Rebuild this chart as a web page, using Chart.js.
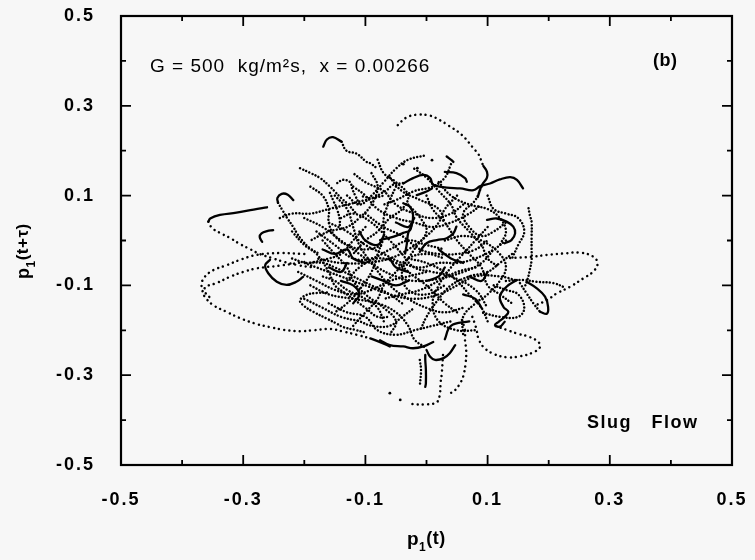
<!DOCTYPE html>
<html><head><meta charset="utf-8">
<script src="https://cdn.jsdelivr.net/npm/chart.js@4/dist/chart.umd.min.js"></script>
<style>html,body{margin:0;padding:0;background:#f7f7f7}#wrap{width:755px;height:560px}</style>
</head><body><div id="wrap"><canvas id="c" width="755" height="560"></canvas></div>
<script>
// ---- axis ticks ----
const X_TICKS = [-0.5, -0.3, -0.1, 0.1, 0.3, 0.5];
const Y_TICKS = [-0.5, -0.3, -0.1, 0.1, 0.3, 0.5];
const MINOR_TICKS = [-0.4, -0.2, 0.0, 0.2, 0.4];

// ---- trajectories p1(t), p1(t+tau) ----
// sparse dotted outer excursions
const T1 = [[-0.047,0.257],[-0.034,0.273],[-0.017,0.280],[0.006,0.278],[0.022,0.268],[0.035,0.257],[0.058,0.235],[0.079,0.202],[0.084,0.195],[0.093,0.166]];
const L1 = [[-0.200,-0.030],[-0.240,-0.028],[-0.278,-0.032],[-0.305,-0.043],[-0.327,-0.055],[-0.349,-0.066],[-0.363,-0.081],[-0.368,-0.095],[-0.367,-0.110],[-0.363,-0.125],[-0.349,-0.144],[-0.327,-0.159],[-0.305,-0.173],[-0.278,-0.186],[-0.256,-0.193],[-0.234,-0.199],[-0.207,-0.202],[-0.185,-0.200],[-0.158,-0.197],[-0.136,-0.203],[-0.114,-0.210],[-0.092,-0.218]];
const L2 = [[-0.200,-0.048],[-0.240,-0.056],[-0.278,-0.062],[-0.300,-0.070],[-0.322,-0.081],[-0.344,-0.095],[-0.362,-0.104],[-0.362,-0.116],[-0.352,-0.130]];
const R1 = [[0.137,-0.039],[0.175,-0.036],[0.197,-0.032],[0.224,-0.029],[0.251,-0.027],[0.273,-0.036],[0.280,-0.051],[0.273,-0.069],[0.257,-0.084],[0.235,-0.103],[0.213,-0.118],[0.197,-0.133],[0.179,-0.144]];
const E2 = [[0.075,-0.170],[0.079,-0.185],[0.082,-0.199],[0.085,-0.218],[0.093,-0.237],[0.109,-0.252],[0.131,-0.260],[0.153,-0.258],[0.175,-0.249],[0.186,-0.237],[0.183,-0.226],[0.169,-0.215],[0.148,-0.207],[0.131,-0.199],[0.112,-0.190]];
const D1 = [[0.058,-0.177],[0.063,-0.200],[0.063,-0.222],[0.065,-0.244],[0.064,-0.274],[0.060,-0.303],[0.055,-0.318],[0.047,-0.333],[0.038,-0.341]];
const D2 = [[0.027,-0.255],[0.025,-0.296],[0.023,-0.318],[0.022,-0.341],[0.017,-0.360],[0.000,-0.365],[-0.016,-0.365],[-0.024,-0.364]];
const C2 = [[-0.357,0.042],[-0.351,0.028],[-0.338,0.017],[-0.322,0.006],[-0.305,-0.008],[-0.289,-0.019],[-0.273,-0.030],[-0.253,-0.039],[-0.232,-0.048],[-0.210,-0.055],[-0.185,-0.060]];
// dense dotted paths
const T2 = [[-0.139,0.220],[-0.131,0.200],[-0.114,0.193],[-0.098,0.175],[-0.092,0.172],[-0.080,0.160]];
const T3 = [[-0.207,0.161],[-0.191,0.151],[-0.174,0.139],[-0.158,0.120],[-0.150,0.109],[-0.140,0.095],[-0.128,0.080],[-0.115,0.060]];
const S2 = [[-0.163,-0.116],[-0.180,-0.117],[-0.196,-0.121],[-0.207,-0.133],[-0.202,-0.144],[-0.185,-0.159],[-0.163,-0.174],[-0.147,-0.185],[-0.136,-0.193],[-0.117,-0.199],[-0.100,-0.205]];
const S3 = [[-0.243,0.084],[-0.236,0.068],[-0.228,0.050],[-0.218,0.030],[-0.212,0.016],[-0.204,0.001],[-0.191,-0.017],[-0.175,-0.030]];
const H0 = [[-0.104,0.098],[-0.088,0.095],[-0.073,0.106],[-0.065,0.112],[-0.055,0.124],[-0.038,0.128]];
const V1 = [[0.167,0.072],[0.169,0.057],[0.172,0.041],[0.172,0.008],[0.172,-0.017],[0.172,-0.043],[0.169,-0.066],[0.165,-0.088],[0.160,-0.106]];
const R2 = [[0.130,-0.090],[0.158,-0.088],[0.180,-0.092],[0.208,-0.095],[0.227,-0.105]];
const E1 = [[0.153,-0.095],[0.164,-0.118],[0.175,-0.140],[0.186,-0.159]];
const D4 = [[-0.011,-0.266],[-0.009,-0.288],[-0.011,-0.326]];
const F1 = [[-0.20,0.05],[-0.17,0.03],[-0.14,0.00],[-0.11,-0.03],[-0.08,-0.06],[-0.05,-0.08],[-0.02,-0.09],[0.02,-0.085],[0.06,-0.07],[0.09,-0.05],[0.11,-0.02]];
const F2 = [[-0.15,0.10],[-0.13,0.07],[-0.12,0.03],[-0.11,-0.01],[-0.09,-0.05],[-0.06,-0.10],[-0.03,-0.13],[0.00,-0.15],[0.03,-0.16],[0.06,-0.15]];
const F3 = [[-0.22,-0.04],[-0.18,-0.06],[-0.14,-0.08],[-0.10,-0.10],[-0.06,-0.12],[-0.02,-0.13],[0.02,-0.12],[0.05,-0.10],[0.08,-0.08],[0.12,-0.08],[0.15,-0.09]];
const F4 = [[-0.05,0.12],[-0.06,0.09],[-0.07,0.05],[-0.07,0.01],[-0.08,-0.03],[-0.09,-0.07],[-0.11,-0.11],[-0.13,-0.14],[-0.15,-0.16]];
const F5 = [[0.05,0.10],[0.03,0.07],[0.02,0.04],[0.00,0.01],[-0.03,-0.02],[-0.06,-0.04],[-0.10,-0.05],[-0.14,-0.05],[-0.18,-0.04]];
const F6 = [[0.10,0.03],[0.08,0.00],[0.06,-0.03],[0.04,-0.06],[0.02,-0.10],[0.01,-0.14],[0.02,-0.18],[0.05,-0.20],[0.08,-0.20]];
const F7 = [[-0.12,0.12],[-0.10,0.10],[-0.08,0.07],[-0.05,0.05],[-0.02,0.04],[0.01,0.03],[0.04,0.04],[0.07,0.06],[0.09,0.08]];
const F8 = [[-0.19,-0.10],[-0.16,-0.12],[-0.12,-0.13],[-0.08,-0.14],[-0.05,-0.16],[-0.03,-0.19],[-0.02,-0.22],[0.00,-0.24]];
const F9 = [[0.13,0.00],[0.11,-0.02],[0.08,-0.04],[0.05,-0.05],[0.02,-0.05],[-0.01,-0.06],[-0.04,-0.05],[-0.07,-0.03],[-0.10,-0.01],[-0.13,0.02],[-0.16,0.04]];
const F10 = [[-0.17,0.00],[-0.15,-0.03],[-0.13,-0.06],[-0.12,-0.09],[-0.10,-0.12],[-0.07,-0.15],[-0.05,-0.18],[-0.06,-0.21]];
const F11 = [[0.00,0.10],[0.01,0.07],[0.03,0.04],[0.05,0.00],[0.07,-0.03],[0.09,-0.06],[0.10,-0.10],[0.12,-0.12],[0.14,-0.14]];
const F12 = [[-0.09,0.15],[-0.08,0.12],[-0.09,0.08],[-0.11,0.05],[-0.13,0.03],[-0.16,0.02],[-0.19,0.00]];
const F13 = [[-0.03,0.08],[-0.01,0.05],[0.00,0.02],[-0.02,-0.02],[-0.04,-0.07],[-0.03,-0.11],[0.00,-0.12],[0.03,-0.10]];
const F14 = [[0.03,0.00],[0.06,0.01],[0.09,0.00],[0.12,-0.03],[0.13,-0.06],[0.12,-0.09],[0.10,-0.12],[0.08,-0.14],[0.06,-0.17],[0.06,-0.21]];
const F15 = [[-0.22,0.02],[-0.20,-0.01],[-0.18,-0.03],[-0.16,-0.07],[-0.15,-0.10],[-0.13,-0.12],[-0.10,-0.15],[-0.08,-0.17],[-0.06,-0.17]];
const F16 = [[-0.10,0.06],[-0.07,0.03],[-0.04,0.01],[-0.01,-0.02],[0.02,-0.03],[0.05,-0.03],[0.08,-0.02],[0.10,0.00]];
const F17 = [[-0.14,0.05],[-0.12,0.06],[-0.09,0.04],[-0.06,0.00],[-0.04,-0.03],[-0.02,-0.06],[0.01,-0.07],[0.04,-0.08],[0.08,-0.11],[0.10,-0.15]];
const F18 = [[0.02,0.13],[0.04,0.10],[0.07,0.08],[0.10,0.07],[0.12,0.05],[0.13,0.02],[0.12,-0.01]];
const F19 = [[-0.16,-0.14],[-0.13,-0.16],[-0.10,-0.17],[-0.08,-0.20],[-0.05,-0.21],[-0.02,-0.20],[0.01,-0.19],[0.04,-0.18]];
const F20 = [[-0.06,0.14],[-0.04,0.11],[-0.01,0.09],[0.02,0.07],[0.03,0.04]];
const F21 = [[-0.158,0.106],[-0.153,0.090],[-0.146,0.068],[-0.142,0.046],[-0.142,0.030]];
const F22 = [[-0.146,0.128],[-0.137,0.135],[-0.125,0.130],[-0.122,0.117],[-0.117,0.101],[-0.109,0.079]];
const F23 = [[-0.19,0.12],[-0.17,0.10],[-0.16,0.07],[-0.16,0.04],[-0.15,0.01],[-0.13,-0.01],[-0.10,-0.02],[-0.07,-0.01]];
const F24 = [[-0.08,0.18],[-0.07,0.15],[-0.05,0.13],[-0.03,0.10],[-0.04,0.07],[-0.06,0.05],[-0.08,0.02],[-0.10,0.00],[-0.12,-0.03]];
const F25 = [[0.04,0.17],[0.03,0.14],[0.01,0.12],[-0.02,0.11],[-0.05,0.09],[-0.07,0.08]];
const F26 = [[0.09,0.12],[0.08,0.09],[0.06,0.06],[0.07,0.03],[0.09,0.01],[0.11,0.02],[0.13,0.04]];
const F27 = [[-0.21,-0.07],[-0.18,-0.09],[-0.15,-0.11],[-0.12,-0.12],[-0.09,-0.11],[-0.06,-0.09],[-0.03,-0.08],[0.00,-0.07]];
const F28 = [[-0.12,-0.19],[-0.10,-0.16],[-0.08,-0.13],[-0.07,-0.10],[-0.05,-0.07],[-0.03,-0.04],[0.00,-0.03],[0.03,-0.04]];
const F29 = [[0.10,-0.18],[0.09,-0.15],[0.07,-0.12],[0.05,-0.09],[0.03,-0.07],[0.00,-0.05],[-0.03,-0.04]];
const F30 = [[-0.02,0.16],[0.00,0.14],[0.02,0.11],[0.04,0.08],[0.05,0.05],[0.07,0.02],[0.09,-0.01],[0.10,-0.04],[0.12,-0.06]];
const F31 = [[-0.13,0.10],[-0.11,0.08],[-0.09,0.10],[-0.07,0.13],[-0.05,0.16],[-0.03,0.18],[0.00,0.19]];
const F32 = [[-0.20,-0.13],[-0.17,-0.15],[-0.14,-0.17],[-0.11,-0.18],[-0.09,-0.19],[-0.06,-0.19],[-0.04,-0.17],[-0.02,-0.15]];
const F33 = [[0.14,-0.03],[0.12,-0.05],[0.10,-0.07],[0.07,-0.08],[0.04,-0.10],[0.02,-0.13],[0.00,-0.17],[-0.01,-0.20]];
const F34 = [[-0.24,0.05],[-0.22,0.06],[-0.19,0.06],[-0.16,0.07],[-0.13,0.08],[-0.10,0.09],[-0.07,0.10]];
const F35 = [[0.06,0.08],[0.04,0.06],[0.01,0.05],[-0.02,0.06],[-0.05,0.08],[-0.07,0.11],[-0.10,0.13],[-0.12,0.15]];
const F36 = [[0.11,-0.10],[0.13,-0.11],[0.15,-0.12],[0.16,-0.15],[0.15,-0.17],[0.12,-0.17],[0.09,-0.16]];
const F37 = [[-0.04,-0.14],[-0.06,-0.12],[-0.09,-0.10],[-0.12,-0.08],[-0.15,-0.06],[-0.17,-0.05],[-0.20,-0.05]];
const F38 = [[0.10,0.10],[0.11,0.07],[0.13,0.06],[0.15,0.05],[0.16,0.02],[0.15,-0.01],[0.14,-0.04]];
const F39 = [[-0.18,0.02],[-0.15,-0.01],[-0.12,-0.04],[-0.09,-0.04],[-0.06,-0.02],[-0.03,0.00],[0.00,-0.01],[0.03,-0.02]];
const F40 = [[-0.07,-0.18],[-0.08,-0.15],[-0.10,-0.13],[-0.13,-0.11],[-0.15,-0.09],[-0.17,-0.08]];
const F41 = [[0.05,-0.16],[0.03,-0.14],[0.00,-0.10],[-0.02,-0.08],[-0.05,-0.05],[-0.08,-0.04],[-0.11,-0.06],[-0.13,-0.09]];
const F42 = [[-0.10,0.03],[-0.12,0.00],[-0.14,-0.03],[-0.16,-0.04],[-0.19,-0.05]];
const F43 = [[0.08,-0.06],[0.05,-0.07],[0.02,-0.09],[-0.01,-0.11],[-0.04,-0.12],[-0.07,-0.13]];
// solid (slow) segments
const T1S = [[0.093,0.166],[0.099,0.153],[0.099,0.140],[0.092,0.126],[0.088,0.115],[0.084,0.097]];
const T2S = [[-0.169,0.209],[-0.163,0.225],[-0.153,0.230],[-0.139,0.220]];
const C1 = [[-0.261,0.074],[-0.283,0.069],[-0.311,0.062],[-0.338,0.057],[-0.354,0.049],[-0.357,0.042]];
const L1S = [[-0.092,-0.218],[-0.071,-0.229],[-0.060,-0.236]];
const S1 = [[-0.256,-0.043],[-0.264,-0.055],[-0.259,-0.073],[-0.245,-0.092],[-0.229,-0.099],[-0.213,-0.092],[-0.202,-0.081]];
const S3S = [[-0.218,0.090],[-0.227,0.102],[-0.237,0.104],[-0.244,0.095],[-0.243,0.084]];
const S4 = [[-0.251,0.023],[-0.261,0.021],[-0.270,0.016],[-0.273,0.008],[-0.269,-0.003]];
const H1 = [[-0.038,0.127],[-0.022,0.139],[-0.005,0.146],[0.006,0.139],[0.011,0.124],[0.033,0.118],[0.055,0.116],[0.077,0.112],[0.088,0.121],[0.104,0.127],[0.120,0.136],[0.137,0.141],[0.148,0.135],[0.158,0.116]];
const H1B = [[0.009,0.116],[0.000,0.109],[-0.016,0.101]];
const H2 = [[0.033,0.187],[0.041,0.179],[0.044,0.175]];
const H3 = [[0.030,0.153],[0.049,0.150],[0.063,0.139],[0.066,0.131]];
const A1 = [[0.099,0.046],[0.115,0.049],[0.131,0.042],[0.142,0.031],[0.145,0.016],[0.139,0.001],[0.128,-0.006]];
const A2 = [[-0.011,-0.025],[0.000,-0.006],[0.017,0.001],[0.033,0.005],[0.044,0.016],[0.049,0.031]];
const A3 = [[-0.038,0.083],[-0.027,0.075],[-0.022,0.057],[-0.024,0.035],[-0.030,0.016],[-0.032,-0.006],[-0.035,-0.029]];
const A4 = [[-0.076,0.001],[-0.055,0.008],[-0.038,0.017],[-0.027,0.023],[-0.024,0.039]];
const E1S = [[0.186,-0.159],[0.197,-0.163],[0.199,-0.148],[0.194,-0.125],[0.180,-0.106],[0.164,-0.092]];
const E3 = [[0.148,-0.088],[0.131,-0.103],[0.120,-0.125],[0.126,-0.148],[0.134,-0.159],[0.128,-0.170],[0.118,-0.181],[0.112,-0.188],[0.120,-0.192],[0.128,-0.181]];
const D3 = [[-0.002,-0.255],[-0.002,-0.266],[-0.001,-0.288],[-0.001,-0.318],[-0.002,-0.326]];
const D5 = [[-0.076,-0.222],[-0.060,-0.233],[-0.038,-0.236],[-0.022,-0.240],[-0.005,-0.236],[0.011,-0.226]];
const D6 = [[0.000,-0.244],[0.006,-0.259],[0.014,-0.266],[0.028,-0.262],[0.038,-0.251],[0.047,-0.233]];
const G1 = [[-0.17,-0.02],[-0.15,-0.03],[-0.13,-0.02],[-0.12,-0.04],[-0.10,-0.05]];
const G2 = [[-0.09,-0.08],[-0.07,-0.09],[-0.05,-0.10],[-0.03,-0.09]];
const G3 = [[0.02,-0.02],[0.04,-0.04],[0.06,-0.05]];
const G4 = [[-0.14,-0.09],[-0.12,-0.10],[-0.11,-0.12],[-0.12,-0.14]];
const G5 = [[-0.06,-0.04],[-0.05,-0.06],[-0.03,-0.07]];
const G6 = [[0.06,-0.12],[0.08,-0.13],[0.09,-0.15]];
const G7 = [[0.03,-0.22],[0.04,-0.19],[0.07,-0.18]];
const G8 = [[-0.11,0.02],[-0.10,0.00],[-0.08,-0.01],[-0.07,0.01]];
const G9 = [[0.00,-0.09],[0.02,-0.08],[0.03,-0.06]];
const G10 = [[-0.16,-0.06],[-0.14,-0.07],[-0.13,-0.05]];
const G11 = [[0.07,-0.08],[0.09,-0.09],[0.10,-0.07]];
const G12 = [[-0.05,0.04],[-0.03,0.03],[-0.02,0.05]];
// isolated samples
const LONE = [[-0.043,-0.355],[-0.060,-0.340],[-0.038,0.170],[-0.015,0.161],[0.009,0.179]];

const SPARSE = [T1, L1, L2, R1, E2, D1, D2, C2];
const DOTTED = [T2, T3, S2, S3, H0, V1, R2, E1, D4, F1, F2, F3, F4, F5, F6, F7, F8, F9, F10, F11, F12, F13, F14, F15, F16, F17, F18, F19, F20, F21, F22,
  F23, F24, F25, F26, F27, F28, F29, F30, F31, F32, F33, F34, F35, F36, F37, F38, F39, F40, F41, F42, F43];
const SOLID = [T1S, T2S, C1, L1S, S1, S3S, S4, H1, H1B, H2, H3, A1, A2, A3, A4, E1S, E3, D3, D5, D6, G1, G2, G3, G4, G5, G6, G7, G8, G9, G10, G11, G12];

const toPts = a => a.map(([x, y]) => ({x, y}));
const line = (a, w, dash) => ({data: toPts(a), showLine: true, pointRadius: 0, borderColor: '#000',
  borderWidth: w, borderDash: dash, borderCapStyle: 'round', borderJoinStyle: 'round', tension: 0.4, fill: false});

const datasets = [
  ...SPARSE.map(a => line(a, 2.5, [0.01, 5.2])),
  ...DOTTED.map(a => line(a, 2.5, [0.01, 3.4])),
  ...SOLID.map(a => line(a, 2.3, [])),
  {data: toPts(LONE), showLine: false, pointRadius: 1.4, pointBackgroundColor: '#000', pointBorderWidth: 0}
];

const FONT = "'Liberation Sans', Arial, sans-serif";

function drawParts(ctx, parts) {
  let x = 0;
  parts.forEach(([txt, font, dy]) => {
    ctx.font = font;
    ctx.fillText(txt, x, dy);
    x += ctx.measureText(txt).width;
  });
}

const frame = {
  id: 'frame',
  beforeDraw(chart) { chart.ctx.letterSpacing = '2px'; },
  afterDraw(chart) {
    const {ctx, chartArea: a, scales: {x, y}} = chart;
    ctx.save();
    ctx.strokeStyle = '#000';
    ctx.lineWidth = 2.2;
    ctx.strokeRect(a.left, a.top, a.right - a.left, a.bottom - a.top);
    ctx.lineWidth = 1.8;
    const tick = (vals, len) => {
      vals.forEach(v => {
        const px = x.getPixelForValue(v), py = y.getPixelForValue(v);
        ctx.beginPath();
        ctx.moveTo(px, a.bottom); ctx.lineTo(px, a.bottom - len);
        ctx.moveTo(px, a.top); ctx.lineTo(px, a.top + len);
        ctx.moveTo(a.left, py); ctx.lineTo(a.left + len, py);
        ctx.moveTo(a.right, py); ctx.lineTo(a.right - len, py);
        ctx.stroke();
      });
    };
    tick(X_TICKS, 10);
    tick(MINOR_TICKS, 5);
    ctx.fillStyle = '#000';
    ctx.textBaseline = 'alphabetic';
    ctx.textAlign = 'left';
    ctx.letterSpacing = '1px';
    ctx.font = '19px ' + FONT;
    ctx.fillText('G = 500  kg/m\u00B2s,  x = 0.00266', 150, 72);
    ctx.letterSpacing = '0.5px';
    ctx.font = 'bold 18px ' + FONT;
    ctx.fillText('(b)', 653, 66);
    ctx.letterSpacing = '1.5px';
    ctx.fillText('Slug   Flow', 587, 428);
    // axis titles
    ctx.letterSpacing = '0.5px';
    ctx.save();
    ctx.translate(407, 545);
    drawParts(ctx, [['p', 'bold 19px ' + FONT, 0], ['1', 'bold 12px ' + FONT, 6], ['(t)', 'bold 18px ' + FONT, -1]]);
    ctx.restore();
    ctx.save();
    ctx.translate(29, 279);
    ctx.rotate(-Math.PI / 2);
    drawParts(ctx, [['p', 'bold 18px ' + FONT, 0], ['1', 'bold 12px ' + FONT, 6], ['(t+\u03C4)', 'bold 17px ' + FONT, -1]]);
    ctx.restore();
    ctx.restore();
  }
};

new Chart(document.getElementById('c'), {
  type: 'scatter',
  data: {datasets},
  options: {
    responsive: false,
    animation: false,
    layout: {padding: {left: 0, right: 23, top: 16, bottom: 0}},
    plugins: {legend: {display: false}, tooltip: {enabled: false}},
    scales: {
      x: {
        type: 'linear', min: -0.5, max: 0.5,
        afterBuildTicks: s => { s.ticks = X_TICKS.map(v => ({value: v})); },
        afterFit: s => { s.height = 95; s.paddingLeft = 0; s.paddingRight = 0; },
        grid: {display: false, drawTicks: false},
        border: {display: false},
        ticks: {color: '#000', padding: 24, font: {family: FONT, size: 18, weight: 'bold'}, callback: v => v.toFixed(1)},
        title: {display: false}
      },
      y: {
        type: 'linear', min: -0.5, max: 0.5,
        afterBuildTicks: s => { s.ticks = Y_TICKS.map(v => ({value: v})); },
        afterFit: s => { s.width = 121; s.paddingTop = 0; s.paddingBottom = 0; },
        grid: {display: false, drawTicks: false},
        border: {display: false},
        ticks: {color: '#000', padding: 26, font: {family: FONT, size: 18, weight: 'bold'}, callback: v => v.toFixed(1)},
        title: {display: false}
      }
    }
  },
  plugins: [frame]
});
</script></body></html>
